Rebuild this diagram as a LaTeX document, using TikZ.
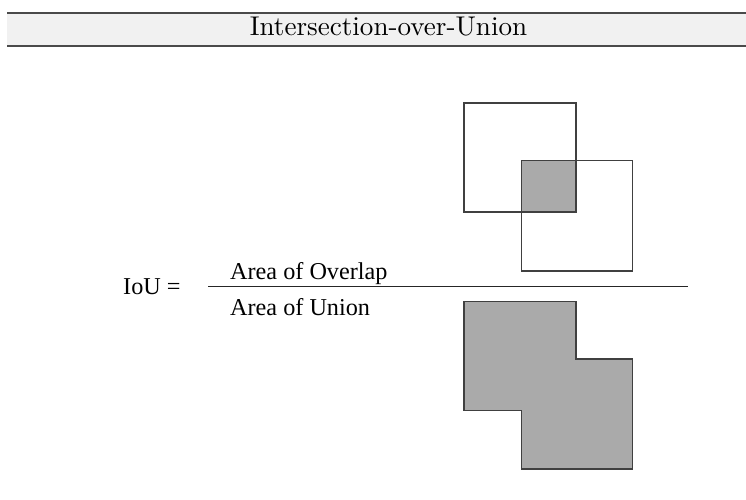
\documentclass[tikz,border=0pt]{standalone}
\usepackage{graphicx}
\usepackage{fontspec}
\newfontfamily\timesfont{Liberation Serif}
\definecolor{bandfill}{HTML}{F1F1F1}
\definecolor{rulegray}{HTML}{4A4A4A}
\definecolor{boxline}{HTML}{404040}
\definecolor{boxfill}{HTML}{AAAAAA}
\tikzset{
  bandrule/.style={draw=rulegray, line width=1.8bp},
  sq/.style={draw=boxline, line width=1.6bp},
  shaded/.style={sq, fill=boxfill},
  formula/.style={font=\timesfont\fontsize{24.3}{29}\selectfont, inner sep=0pt},
}
\begin{document}
\begin{tikzpicture}[x=1bp, y=-1bp]
\useasboundingbox (0,0) rectangle (746,500);
% title band
\fill[bandfill] (7,13.3) rectangle (746,45.7);
\draw[bandrule] (7,13.3) -- (746,13.3);
\draw[bandrule] (7,45.7) -- (746,45.7);
\node[font=\fontsize{10}{12}\selectfont, inner sep=0pt, anchor=base] (title) at (388.5,35.7)
  {\scalebox{2.72}{Intersection-over-Union}};

% formula
\node[formula, anchor=base west] (iou) at (123,295) {IoU =};
\coordinate (barL) at (208,286.5);
\coordinate (barR) at (688,286.5);
\draw[draw=black!85, line width=1.8bp] (barL) -- (barR);
\node[formula, anchor=base west] (num) at (230,280) {Area of Overlap};
\node[formula, anchor=base west] (den) at (230,315) {Area of Union};

% two overlapping boxes with their intersection shaded
\fill[boxfill] (521.3,160.7) rectangle (575.7,212);
\draw[sq] (464,103.3) rectangle (575.7,212);
\draw[sq] (521.3,160.7) rectangle (632.3,271);

% union of the two boxes
\draw[shaded] (464,301.3) -- (575.7,301.3) -- (575.7,359) -- (632.3,359)
  -- (632.3,468.7) -- (521.3,468.7) -- (521.3,410.3) -- (464,410.3) -- cycle;
\end{tikzpicture}
\end{document}
